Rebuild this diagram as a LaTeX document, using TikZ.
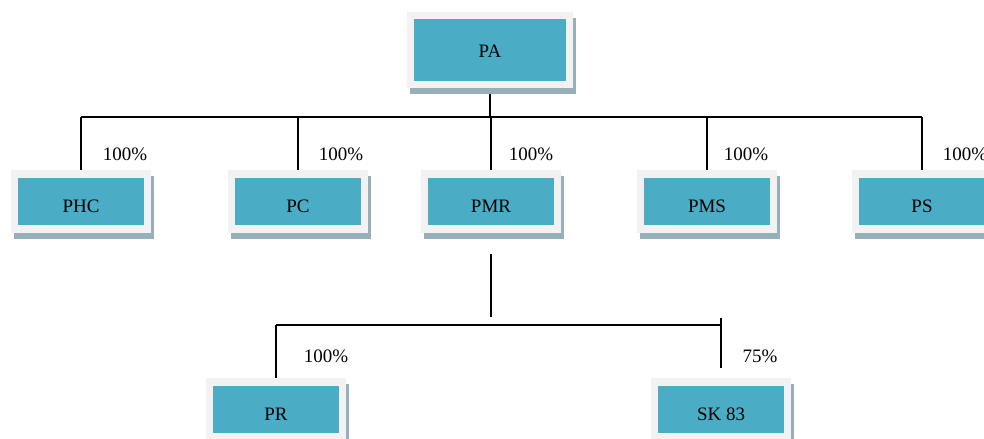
\documentclass[tikz,border=0pt]{standalone}
\usepackage{fontspec}
\setmainfont{Liberation Serif}
\usetikzlibrary{positioning,shadows,backgrounds}
\definecolor{unitfill}{HTML}{4BACC6}
\definecolor{unitframe}{HTML}{F2F2F2}
\definecolor{unitshadow}{RGB}{150,175,185}
\tikzset{
    unit/.style={rectangle, fill=unitfill, draw=unitframe, line width=0.15cm,
        minimum width=2.66cm, minimum height=1.11cm, inner sep=0pt,
        text height=13pt, text depth=0pt, font=\fontsize{10.8}{13}\selectfont,
        drop shadow={shadow xshift=0.06cm, shadow yshift=-0.12cm,
            fill=unitshadow, draw=unitshadow, opacity=1}},
    share/.style={font=\fontsize{10.8}{13}\selectfont, inner sep=1pt},
    link/.style={line width=0.04cm, black}
}

\begin{document}
\begin{tikzpicture}[x=0.02cm, y=-0.02cm]
    \useasboundingbox (0,0) rectangle (984,439);

    % Units
    \node[unit, minimum width=3.19cm, minimum height=1.39cm, text height=9pt] (pa) at (490,50) {PA};
    \node[unit] (phc) at (81,201.5) {PHC};
    \node[unit] (pc) at (298,201.5) {PC};
    \node[unit] (pmr) at (491,201.5) {PMR};
    \node[unit] (pms) at (707,201.5) {PMS};
    \node[unit] (ps) at (922,201.5) {PS};
    \node[unit] (pr) at (276,409.5) {PR};
    \node[unit] (sk) at (721,409.5) {SK 83};

    % Shares
    \node[share] (s1) at (125,154) {100\%};
    \node[share] (s2) at (341,154) {100\%};
    \node[share] (s3) at (531,154) {100\%};
    \node[share] (s4) at (746,154) {100\%};
    \node[share] (s5) at (965,154) {100\%};
    \node[share] (s6) at (326,356) {100\%};
    \node[share] (s7) at (760,356) {75\%};

    % Links
    \begin{scope}[on background layer]
        \coordinate (busL) at (81,117);
        \coordinate (busR) at (922,117);
        \draw[link] (busL) -- (busR);
        \draw[link] (pa.south) -- (pa.south |- busL);
        \foreach \c in {phc,pc,pmr,pms,ps}
            \draw[link] (\c.north |- busL) -- (\c.north);

        \coordinate (drop) at (491,317);
        \draw[link] ([yshift=-0.42cm]pmr.south) -- (drop);
        \coordinate (subL) at (276,325);
        \coordinate (subR) at (721,325);
        \draw[link] (subL) -- (subR);
        \draw[link] (subL) -- (pr.north);
        \draw[link] ([yshift=0.14cm]subR) -- ([yshift=0.2cm]sk.north);
    \end{scope}
\end{tikzpicture}
\end{document}
